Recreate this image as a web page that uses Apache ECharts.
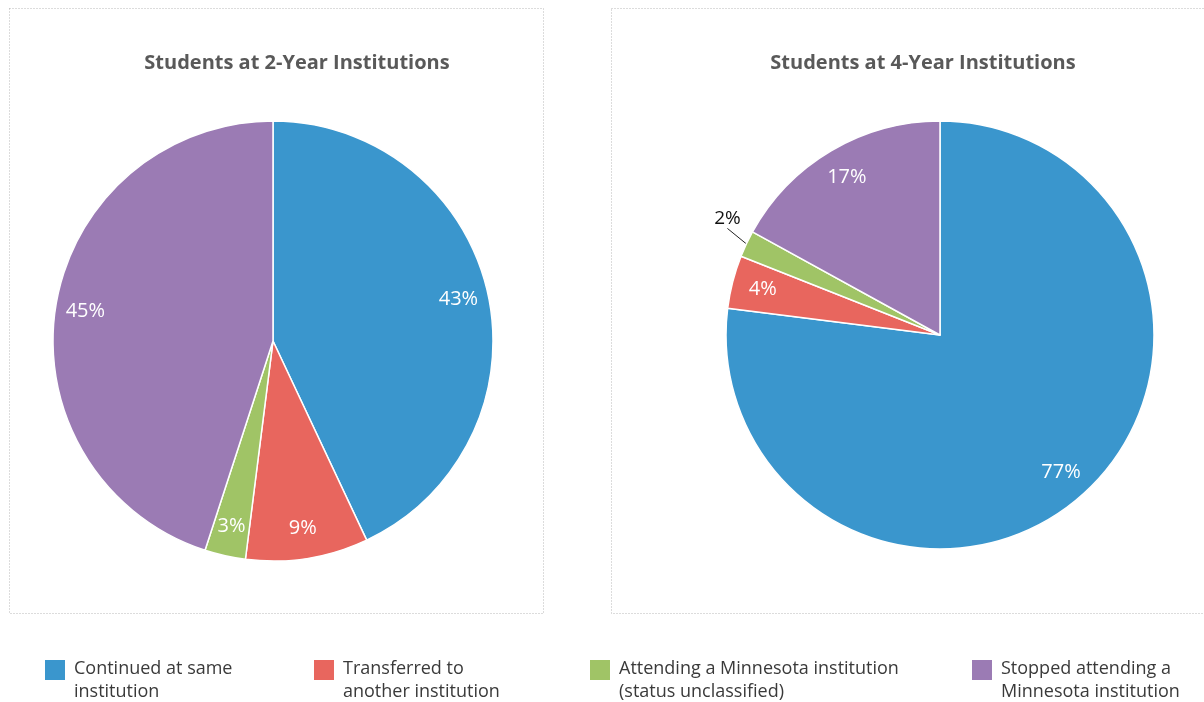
<!DOCTYPE html>
<html><head><meta charset="utf-8">
<script src="https://cdn.jsdelivr.net/npm/echarts@6/dist/echarts.min.js"></script>
<style>html,body{margin:0;padding:0;background:#fff}#c{width:1204px;height:702px}</style>
</head><body><div id="c"></div>
<script>
// ---- data ----
const categories = [
  'Continued at same institution',
  'Transferred to another institution',
  'Attending a Minnesota institution (status unclassified)',
  'Stopped attending a Minnesota institution'
];
const legendLabels = [
  'Continued at same\ninstitution',
  'Transferred to\nanother institution',
  'Attending a Minnesota institution\n(status unclassified)',
  'Stopped attending a\nMinnesota institution'
];
const twoYearValues = [43, 9, 3, 45];
const fourYearValues = [77, 4, 2, 17];
const chartTitles = ['Students at 2-Year Institutions', 'Students at 4-Year Institutions'];

// ---- style ----
const colors = ['#3a96cd', '#e8665e', '#a0c466', '#9b7bb4'];
const FONT = '"Open Sans", "Noto Sans", sans-serif';
const OUTSIDE_MAX = 2; // slices this small get an outside label

const pies = [
  { values: twoYearValues, center: [273, 341], r: 220, r0: 154, titleX: 297 },
  { values: fourYearValues, center: [940, 335], r: 214, r0: 146, titleX: 923 }
];

const chart = echarts.init(document.getElementById('c'), null, { renderer: 'canvas' });

const series = [];
pies.forEach((p, k) => {
  series.push({
    type: 'pie',
    name: chartTitles[k],
    center: p.center,
    radius: p.r,
    startAngle: 90,
    clockwise: true,
    avoidLabelOverlap: false,
    animation: false,
    emphasis: { disabled: true },
    itemStyle: { borderColor: '#ffffff', borderWidth: 1.5 },
    label: {
      position: 'outside',
      formatter: '{c}%',
      color: '#111111',
      fontFamily: FONT,
      fontSize: 19
    },
    labelLine: { length: 14, length2: 0, lineStyle: { color: '#222222', width: 1 } },
    labelLayout: function (params) {
      const r = params.labelRect;
      return { x: r.x + r.width + 12, y: r.y + r.height / 2 - 19 };
    },
    data: categories.map((n, i) => ({
      name: n,
      value: p.values[i],
      itemStyle: { color: colors[i] },
      label: { show: p.values[i] <= OUTSIDE_MAX },
      labelLine: { show: p.values[i] <= OUTSIDE_MAX }
    }))
  });
  // label carrier ring (transparent) to place inside labels near the rim
  series.push({
    type: 'pie',
    name: chartTitles[k] + ' labels',
    center: p.center,
    radius: [p.r0, p.r],
    startAngle: 90,
    clockwise: true,
    silent: true,
    animation: false,
    z: 3,
    itemStyle: { color: 'rgba(0,0,0,0)', borderWidth: 0 },
    label: {
      position: 'inside',
      formatter: '{c}%',
      color: '#ffffff',
      fontFamily: FONT,
      fontSize: 20
    },
    labelLine: { show: false },
    data: categories.map((n, i) => ({
      name: n,
      value: p.values[i],
      label: { show: p.values[i] > OUTSIDE_MAX }
    }))
  });
});

const legendX = [43, 312, 588, 970];
const legendIcon = 'path://M0,0H22V22H0Z M0,42H0.01V42.01H0Z';
const legends = categories.map((n, i) => ({
  show: true,
  left: legendX[i],
  top: 657,
  padding: 0,
  orient: 'horizontal',
  itemWidth: 22,
  itemHeight: 42,
  selectedMode: true,
  data: [{ name: n, icon: legendIcon, itemStyle: { color: colors[i] } }],
  formatter: function () { return legendLabels[i]; },
  textStyle: {
    color: '#3a3a3a',
    fontFamily: FONT,
    fontSize: 18,
    lineHeight: 23,
    padding: [0, 0, 0, 3]
  }
}));

const option = {
  backgroundColor: '#ffffff',
  title: pies.map((p, k) => ({
    text: chartTitles[k],
    left: p.titleX,
    top: 53,
    textAlign: 'center',
    padding: 0,
    textStyle: { color: '#595959', fontFamily: FONT, fontSize: 20, fontWeight: 'bold' }
  })),
  legend: legends,
  graphic: [
    { type: 'rect', shape: { x: 9.5, y: 8.5, width: 534, height: 605 },
      style: { fill: null, stroke: '#b8b8b8', lineWidth: 1, lineDash: [1, 2] }, silent: true },
    { type: 'rect', shape: { x: 611.5, y: 8.5, width: 620, height: 605 },
      style: { fill: null, stroke: '#b8b8b8', lineWidth: 1, lineDash: [1, 2] }, silent: true }
  ],
  series: series
};
chart.setOption(option);
</script>
</body></html>
